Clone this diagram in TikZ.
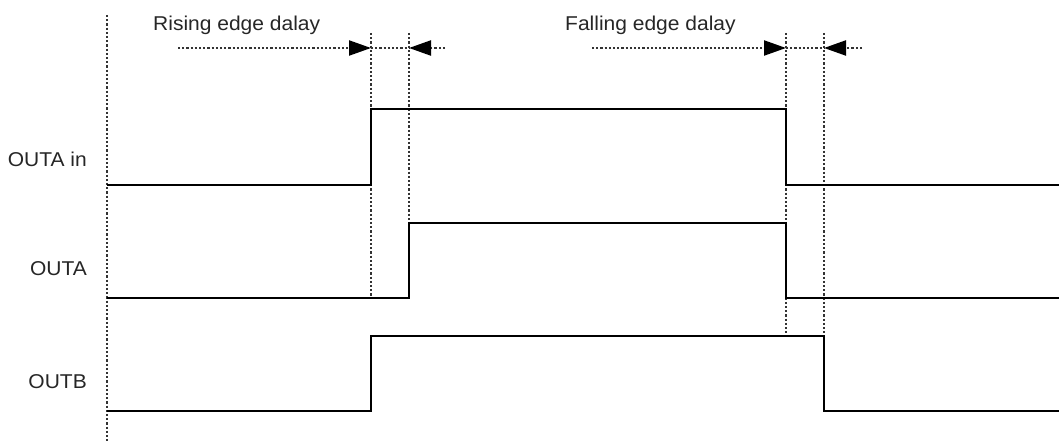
\documentclass[tikz,border=0pt]{standalone}
\usepackage{fontspec}
\setmainfont[FakeStretch=1.05]{Liberation Sans}
\usetikzlibrary{arrows.meta}
\begin{document}
\begin{tikzpicture}[x=1pt,y=-1pt,
  dotline/.style={line width=2.2pt, dash pattern=on 2.2pt off 2pt, color=black!80},
  wave/.style={line width=2.6pt, line join=miter},
  tri/.style={-{Triangle[length=22pt,width=15pt,fill=black,color=black]}},
  lbl/.style={inner sep=0pt, font=\fontsize{20}{24}\selectfont, text=black!85}]
\useasboundingbox (0,0) rectangle (1059,446);
% labels
\node[lbl, anchor=base west] (rise) at (153,31) {Rising edge dalay};
\node[lbl, anchor=base west] (fall) at (565,31) {Falling edge dalay};
\node[lbl, anchor=base east] (la) at (87,167) {OUTA in};
\node[lbl, anchor=base east] (lb) at (87,275) {OUTA};
\node[lbl, anchor=base east] (lc) at (87,388) {OUTB};
% coordinates
\coordinate (v0t) at (107,15);  \coordinate (v0b) at (107,443);
\coordinate (v1t) at (371,33);  \coordinate (v1b) at (371,298);
\coordinate (v2t) at (409,33);  \coordinate (v2b) at (409,223);
\coordinate (v3t) at (786,33);  \coordinate (v3b) at (786,336);
\coordinate (v4t) at (824,33);  \coordinate (v4b) at (824,336);
\coordinate (r0) at (178,48); \coordinate (r1) at (371,48);
\coordinate (r2) at (409,48); \coordinate (r3) at (445,48);
\coordinate (f0) at (592,48); \coordinate (f1) at (786,48);
\coordinate (f2) at (824,48); \coordinate (f3) at (862,48);
% dotted verticals
\draw[dotline] (v0t) -- (v0b);
\draw[dotline] (v1t) -- (v1b);
\draw[dotline] (v2t) -- (v2b);
\draw[dotline] (v3t) -- (v3b);
\draw[dotline] (v4t) -- (v4b);
% delay arrows
\draw[dotline, tri] (r0) -- (r1);
\draw[dotline] (r1) -- (r2);
\draw[dotline, tri] (r3) -- (r2);
\draw[dotline, tri] (f0) -- (f1);
\draw[dotline] (f1) -- (f2);
\draw[dotline, tri] (f3) -- (f2);
% waveforms
\draw[wave] (107,185) -- (371,185) -- (371,109) -- (786,109) -- (786,185) -- (1059,185);
\draw[wave] (107,298) -- (409,298) -- (409,223) -- (786,223) -- (786,298) -- (1059,298);
\draw[wave] (107,411) -- (371,411) -- (371,336) -- (824,336) -- (824,411) -- (1059,411);
\end{tikzpicture}
\end{document}
